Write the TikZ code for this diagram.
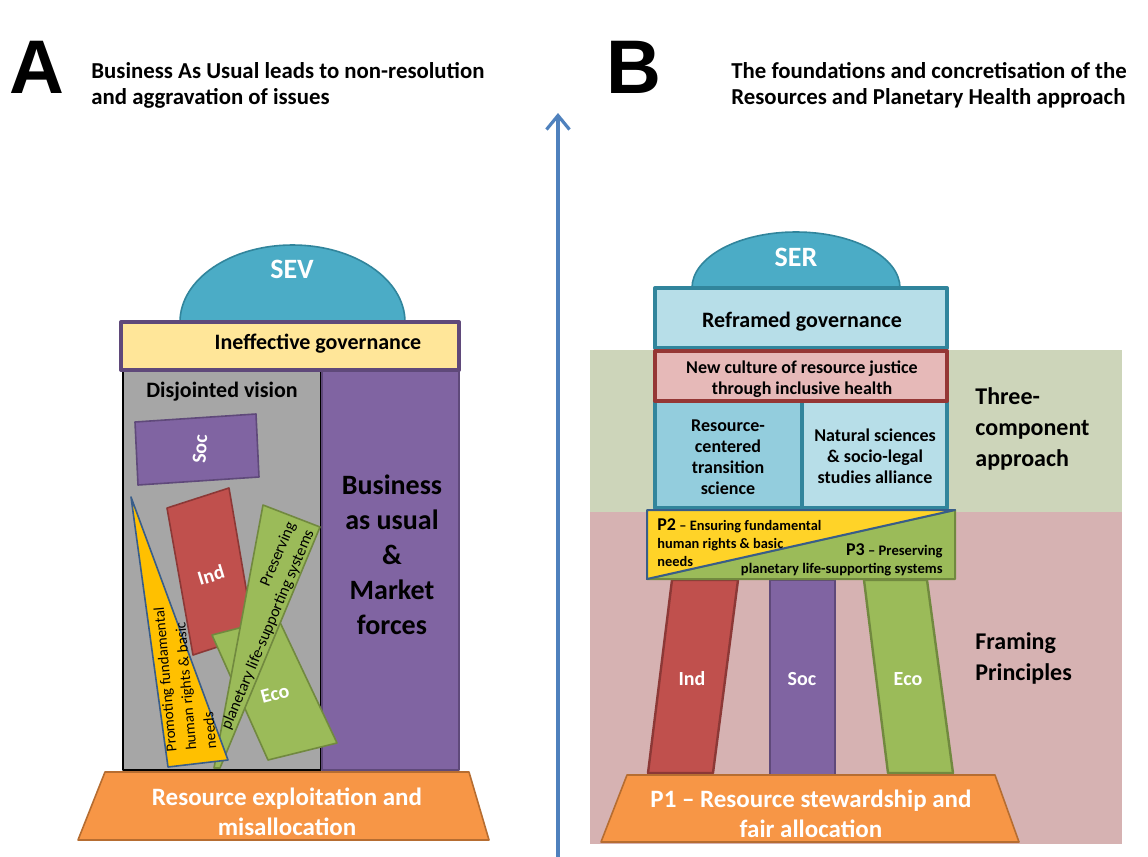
\documentclass[tikz,border=0pt]{standalone}
\usepackage{fontspec}
\setmainfont{Carlito}
\newfontfamily\letterfont{Liberation Sans}
\usetikzlibrary{arrows.meta}
\definecolor{TealDome}{RGB}{75,172,198}
\definecolor{TealEdge}{RGB}{49,133,156}
\definecolor{PurpleSoc}{RGB}{128,100,162}
\definecolor{PurpleEdge}{RGB}{95,73,122}
\definecolor{RedInd}{RGB}{192,80,77}
\definecolor{RedEdge}{RGB}{140,56,54}
\definecolor{GreenEco}{RGB}{155,187,89}
\definecolor{GreenEdge}{RGB}{113,137,63}
\definecolor{GoldP}{RGB}{255,192,0}
\definecolor{YellowP}{RGB}{255,211,40}
\definecolor{BlueEdge}{RGB}{56,93,138}
\definecolor{OrangeBase}{RGB}{247,150,70}
\definecolor{OrangeEdge}{RGB}{182,109,49}
\definecolor{GreyVision}{RGB}{166,166,166}
\definecolor{CreamGov}{RGB}{255,230,153}
\definecolor{LightBlue}{RGB}{183,222,232}
\definecolor{MidBlue}{RGB}{147,205,221}
\definecolor{RoseBox}{RGB}{230,185,184}
\definecolor{RoseEdge}{RGB}{149,55,53}
\definecolor{BandGreen}{RGB}{205,213,186}
\definecolor{BandPink}{RGB}{214,178,178}
\definecolor{ArrowBlue}{RGB}{79,129,189}
\newcommand{\fsz}[2]{\fontsize{#1}{#2}\selectfont}

\begin{document}
\begin{tikzpicture}[x=0.5pt,y=-0.5pt,line join=round,
  lbl/.style={inner sep=0pt,font=\bfseries\fsz{11}{13}},
  pillar/.style={inner sep=0pt,text=white,font=\bfseries\fsz{10}{12}},
  tiny/.style={inner sep=0pt,font=\fsz{7.5}{10}}]
  \useasboundingbox (0,0) rectangle (1148,857);

  % ---- panel A
  \node[inner sep=0pt,anchor=base west,font=\letterfont\bfseries\fsz{38}{38}] (letterA) at (9,93) {A};
  \node[lbl,anchor=west,align=left,font=\bfseries\fsz{11.4}{13}] (titleA) at (91,85.5)
       {Business As Usual leads to non-resolution\\and aggravation of issues};

  \filldraw[fill=TealDome,draw=TealEdge,line width=0.8pt] (180,322)
       arc[start angle=180,end angle=0,x radius=56.25pt,y radius=38.5pt] -- cycle;
  \node[lbl,anchor=base,text=white,font=\bfseries\fsz{14}{16}] (domeSEV) at (292,278) {SEV};

  \filldraw[fill=GreyVision,draw=black,line width=0.8pt] (123,370) rectangle (321,770);
  \filldraw[fill=PurpleSoc,draw=PurpleEdge,line width=1.2pt] (322,370) rectangle (459,770);
  \filldraw[fill=CreamGov,draw=PurpleEdge,line width=2pt] (121,322) rectangle (459,370);
  \node[lbl,anchor=base] (govA) at (318,349) {Ineffective governance};
  \node[lbl,anchor=base] (visionA) at (222,397) {Disjointed vision};
  \node[lbl,align=center,font=\bfseries\fsz{14}{17.5}] (bauA) at (392,555)
       {Business\\as usual\\\&\\Market\\forces};

  \filldraw[fill=PurpleSoc,draw=PurpleEdge,line width=0.8pt]
       (135,422) -- (256,414) -- (259,477) -- (138,485) -- cycle;
  \node[pillar,rotate=87] (socA) at (200,449) {Soc};
  \filldraw[fill=RedInd,draw=RedEdge,line width=0.8pt]
       (167,508) -- (229,488) -- (254,635) -- (193,655) -- cycle;
  \node[pillar,rotate=17] (indA) at (211,575) {Ind};
  \filldraw[fill=GreenEco,draw=GreenEdge,line width=0.8pt]
       (212,635) -- (278,618) -- (337,743) -- (268,760) -- cycle;
  \node[pillar,rotate=15] (ecoA) at (275,694) {Eco};
  \filldraw[fill=GreenEco,draw=GreenEdge,line width=0.8pt]
       (263,505) -- (320,527) -- (220,768) -- (214,768) -- cycle;
  \node[tiny,rotate=67,align=right,font=\fsz{8}{10}] (preserveA) at (259,626)
       {Preserving\\planetary life-supporting systems};
  \filldraw[fill=GoldP,draw=BlueEdge,line width=0.8pt]
       (131,497) -- (228,760) -- (168,767) -- cycle;
  \node[tiny,rotate=95,align=left] (promoteA) at (185,678)
       {Promoting fundamental\\human rights \& basic\\needs};

  \filldraw[fill=OrangeBase,draw=OrangeEdge,line width=0.8pt]
       (105,772) -- (469,772) -- (489,840) -- (78,840) -- cycle;
  \node[lbl,align=center,text=white,font=\bfseries\fsz{12.5}{15}] (baseA) at (287,812)
       {Resource exploitation and\\misallocation};

  % ---- time axis
  \coordinate (arrowfoot) at (558,857);
  \coordinate (arrowtip) at (558,113);
  \draw[ArrowBlue,line width=2pt,-{Straight Barb[length=7pt,width=11.5pt,line width=1.6pt]}]
       (arrowfoot) -- (arrowtip);

  % ---- panel B
  \node[inner sep=0pt,anchor=base west,font=\letterfont\bfseries\fsz{38}{38}] (letterB) at (606,93) {B};
  \node[lbl,anchor=west,align=left,font=\bfseries\fsz{11.4}{13}] (titleB) at (731,85.5)
       {The foundations and concretisation of the\\Resources and Planetary Health approach};

  \fill[BandGreen] (590,350) rectangle (1122,512);
  \fill[BandPink] (590,512) rectangle (1122,844);
  \node[lbl,anchor=west,align=left,font=\bfseries\fsz{12}{15.5}] (threeB) at (975,428.5)
       {Three-\\component\\approach};
  \node[lbl,anchor=west,align=left,font=\bfseries\fsz{12}{15.5}] (framingB) at (975,658)
       {Framing\\Principles};

  \filldraw[fill=TealDome,draw=TealEdge,line width=0.8pt] (692,288)
       arc[start angle=180,end angle=0,x radius=52pt,y radius=28pt] -- cycle;
  \node[lbl,anchor=base,text=white,font=\bfseries\fsz{14}{16}] (domeSER) at (796,266) {SER};
  \filldraw[fill=LightBlue,draw=TealEdge,line width=2pt] (655,288) rectangle (947,348);
  \node[lbl,anchor=base] (govB) at (802,327) {Reframed governance};
  \filldraw[fill=MidBlue,draw=TealEdge,line width=2pt] (655,401) rectangle (802,508);
  \filldraw[fill=LightBlue,draw=TealEdge,line width=2pt] (802,401) rectangle (947,508);
  \filldraw[fill=RoseBox,draw=RoseEdge,line width=2pt] (655,351) rectangle (947,401);
  \node[lbl,align=center,font=\bfseries\fsz{9}{10.5}] (cultureB) at (802,379)
       {New culture of resource justice\\through inclusive health};
  \node[lbl,align=center,font=\bfseries\fsz{9}{10.5}] (transitionB) at (728,457)
       {Resource-\\centered\\transition\\science};
  \node[lbl,align=center,font=\bfseries\fsz{9}{10.5}] (allianceB) at (875,456.5)
       {Natural sciences\\\& socio-legal\\studies alliance};

  \filldraw[fill=RedInd,draw=RedEdge,line width=1.2pt]
       (672,580) -- (738,580) -- (713,773) -- (648,773) -- cycle;
  \filldraw[fill=PurpleSoc,draw=PurpleEdge,line width=1.2pt] (770,580) rectangle (835,775);
  \filldraw[fill=GreenEco,draw=GreenEdge,line width=1.2pt]
       (864,580) -- (927,580) -- (953,773) -- (888,773) -- cycle;
  \node[pillar,anchor=base] (indB) at (692,685) {Ind};
  \node[pillar,anchor=base] (socB) at (802,685) {Soc};
  \node[pillar,anchor=base] (ecoB) at (908,685) {Eco};

  \filldraw[fill=GreenEco,draw=GreenEdge,line width=1pt]
       (955,510) -- (955,579) -- (647,579) -- cycle;
  \filldraw[fill=YellowP,draw=BlueEdge,line width=1pt]
       (647,510) -- (955,510) -- (647,579) -- cycle;
  \node[lbl,anchor=west,align=left,font=\bfseries\fsz{7.2}{9}] (ptwoB) at (657,543)
       {{\fsz{9}{9}P2} -- Ensuring fundamental\\human rights \& basic\\needs};
  \node[lbl,anchor=east,align=right,font=\bfseries\fsz{7.3}{9}] (pthreeB) at (943,560)
       {{\fsz{9}{9}P3} -- Preserving\\planetary life-supporting systems};

  \filldraw[fill=OrangeBase,draw=OrangeEdge,line width=0.8pt]
       (627,775) -- (995,775) -- (1019,842) -- (601,842) -- cycle;
  \node[lbl,align=center,text=white,font=\bfseries\fsz{12.5}{15}] (baseB) at (811,814)
       {P1 -- Resource stewardship and\\fair allocation};
\end{tikzpicture}
\end{document}
